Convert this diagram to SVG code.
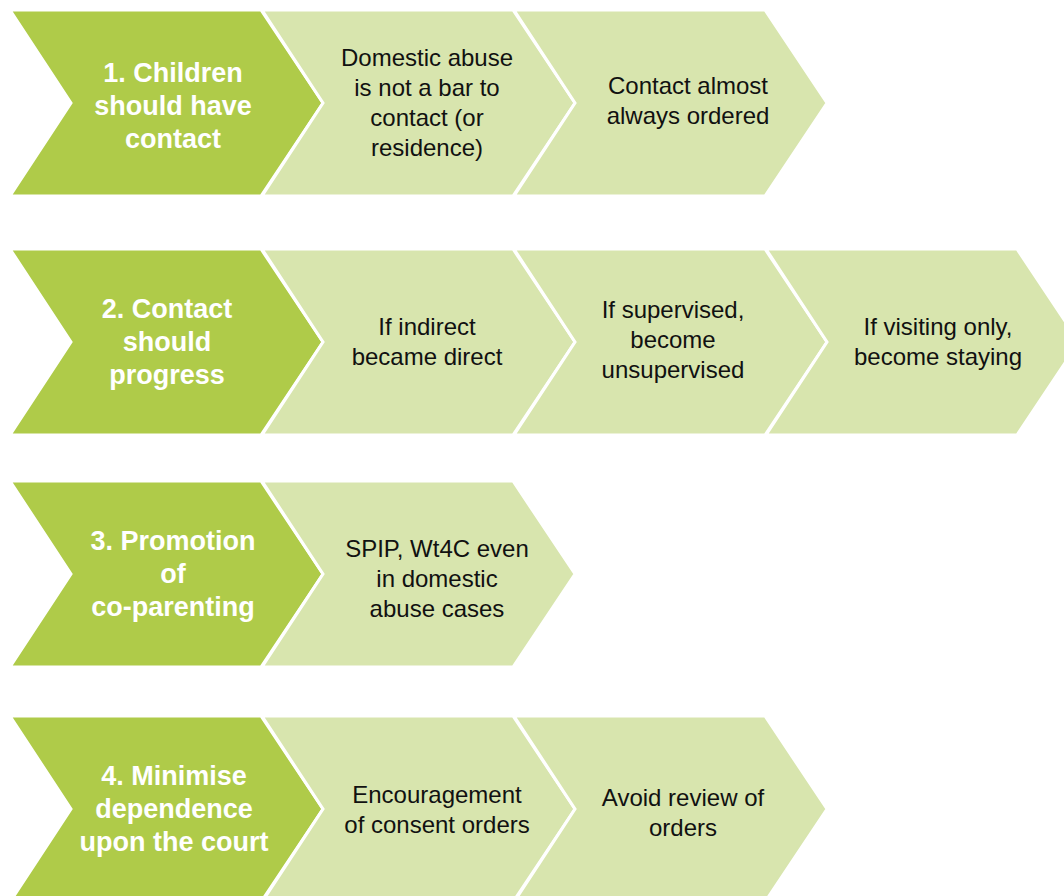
<svg xmlns="http://www.w3.org/2000/svg" width="1064" height="896" viewBox="0 0 1064 896">
<style>
.dk{fill:#AFCB49;stroke:#FFFFFF;stroke-width:3;stroke-linejoin:miter}
.lt{fill:#D8E5AE;stroke:#FFFFFF;stroke-width:3;stroke-linejoin:miter}
.th{font-family:"Liberation Sans",Arial,sans-serif;font-size:27px;font-weight:bold;fill:#FFFFFF;text-anchor:middle}
.tb{font-family:"Liberation Sans",Arial,sans-serif;font-size:24px;fill:#111111;text-anchor:middle}
</style>
<rect x="0" y="0" width="1064" height="896" fill="#FFFFFF"/>
<g id="connectors"></g>

<g id="row1-head">
<path class="dk" d="M10,10 L261,10 L323,103 L261,196 L10,196 L71,103 Z"/>
<text class="th"><tspan x="173" y="82">1. Children</tspan><tspan x="173" y="115">should have</tspan><tspan x="173" y="148">contact</tspan></text>
</g>
<g id="row1-b">
<path class="lt" d="M262,10 L513,10 L575,103 L513,196 L262,196 L323,103 Z"/>
<text class="tb"><tspan x="427" y="66">Domestic abuse</tspan><tspan x="427" y="96">is not a bar to</tspan><tspan x="427" y="126">contact (or</tspan><tspan x="427" y="156">residence)</tspan></text>
</g>
<g id="row1-c">
<path class="lt" d="M514,10 L765,10 L827,103 L765,196 L514,196 L575,103 Z"/>
<text class="tb"><tspan x="688" y="94">Contact almost</tspan><tspan x="688" y="124">always ordered</tspan></text>
</g>

<g id="row2-head">
<path class="dk" d="M10,249 L261,249 L323,342 L261,435 L10,435 L71,342 Z"/>
<text class="th"><tspan x="167" y="318">2. Contact</tspan><tspan x="167" y="351">should</tspan><tspan x="167" y="384">progress</tspan></text>
</g>
<g id="row2-b">
<path class="lt" d="M262,249 L513,249 L575,342 L513,435 L262,435 L323,342 Z"/>
<text class="tb"><tspan x="427" y="335">If indirect</tspan><tspan x="427" y="365">became direct</tspan></text>
</g>
<g id="row2-c">
<path class="lt" d="M514,249 L765,249 L827,342 L765,435 L514,435 L575,342 Z"/>
<text class="tb"><tspan x="673" y="318">If supervised,</tspan><tspan x="673" y="348">become</tspan><tspan x="673" y="378">unsupervised</tspan></text>
</g>
<g id="row2-d">
<path class="lt" d="M766,249 L1017,249 L1079,342 L1017,435 L766,435 L827,342 Z"/>
<text class="tb"><tspan x="938" y="335">If visiting only,</tspan><tspan x="938" y="365">become staying</tspan></text>
</g>

<g id="row3-head">
<path class="dk" d="M10,481 L261,481 L323,574 L261,667 L10,667 L71,574 Z"/>
<text class="th"><tspan x="173" y="550">3. Promotion</tspan><tspan x="173" y="583">of</tspan><tspan x="173" y="616">co-parenting</tspan></text>
</g>
<g id="row3-b">
<path class="lt" d="M262,481 L513,481 L575,574 L513,667 L262,667 L323,574 Z"/>
<text class="tb"><tspan x="437" y="557">SPIP, Wt4C even</tspan><tspan x="437" y="587">in domestic</tspan><tspan x="437" y="617">abuse cases</tspan></text>
</g>

<g id="row4-head">
<path class="dk" d="M10,716 L261,716 L323,809 L261,902 L10,902 L71,809 Z"/>
<text class="th"><tspan x="174" y="785">4. Minimise</tspan><tspan x="174" y="818">dependence</tspan><tspan x="174" y="851">upon the court</tspan></text>
</g>
<g id="row4-b">
<path class="lt" d="M262,716 L513,716 L575,809 L513,902 L262,902 L323,809 Z"/>
<text class="tb"><tspan x="437" y="803">Encouragement</tspan><tspan x="437" y="833">of consent orders</tspan></text>
</g>
<g id="row4-c">
<path class="lt" d="M514,716 L765,716 L827,809 L765,902 L514,902 L575,809 Z"/>
<text class="tb"><tspan x="683" y="806">Avoid review of</tspan><tspan x="683" y="836">orders</tspan></text>
</g>
</svg>
